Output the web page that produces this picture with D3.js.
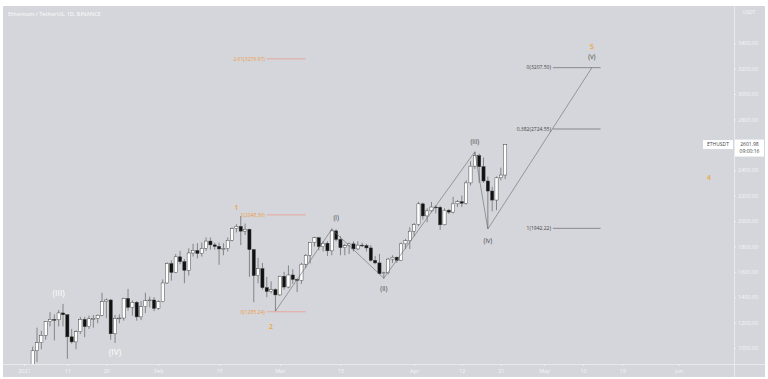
<!DOCTYPE html>
<html>
<head>
<meta charset="utf-8">
<script src="https://cdn.jsdelivr.net/npm/d3@7"></script>
<style>
  body { margin: 0; background: #fff; }
  svg { display: block; font-family: "Open Sans", "DejaVu Sans", sans-serif; }
</style>
</head>
<body>
<div id="chart-area"></div>
<script>
// daily ETH/USDT candles, starting 2021-01-01
const startDay = Date.UTC(2021, 0, 1);
const opens  = [737,730,775,978,1042,1100,1208,1225,1222,1276,1262,1088,1048,1128,1225,1168,1230,1232,1258,1365,1378,1112,1232,1236,1390,1320,1360,1245,1325,1372,1378,1312,1365,1512,1665,1595,1718,1680,1612,1748,1768,1745,1785,1842,1812,1800,1780,1782,1848,1940,1958,1920,1935,1775,1570,1625,1475,1445,1460,1418,1565,1480,1575,1540,1532,1660,1730,1832,1868,1798,1825,1765,1922,1855,1790,1805,1820,1780,1810,1806,1788,1690,1670,1585,1592,1700,1715,1690,1820,1845,1920,1972,2135,2040,2080,2110,2108,1970,2085,2070,2135,2152,2140,2300,2432,2515,2428,2315,2236,2165,2340,2362];
const highs  = [749,787,1011,1160,1135,1210,1282,1265,1300,1347,1262,1150,1140,1245,1245,1255,1260,1265,1435,1390,1385,1260,1265,1395,1465,1375,1370,1370,1435,1405,1400,1375,1540,1675,1690,1740,1765,1700,1785,1820,1825,1830,1870,1870,1830,1830,1825,1870,1950,1975,2040,1980,1940,1780,1710,1670,1560,1525,1470,1570,1600,1650,1620,1545,1670,1740,1835,1875,1875,1840,1840,1942,1935,1880,1820,1830,1840,1840,1830,1820,1810,1725,1740,1600,1710,1730,1720,1830,1860,1950,1985,2150,2145,2100,2150,2125,2120,2100,2095,2190,2165,2200,2320,2470,2545,2530,2500,2350,2270,2350,2420,2605];
const lows   = [715,715,768,890,990,1065,1170,1060,1170,1170,915,1035,990,1110,1085,1150,1160,1195,1250,1235,1065,1040,1195,1215,1295,1255,1215,1220,1275,1320,1290,1300,1360,1505,1530,1590,1660,1510,1570,1720,1705,1720,1765,1775,1775,1655,1730,1760,1840,1910,1810,1890,1560,1360,1510,1460,1400,1430,1290,1410,1460,1470,1505,1440,1505,1630,1665,1800,1770,1760,1725,1730,1840,1730,1730,1740,1760,1770,1795,1760,1680,1660,1580,1545,1580,1670,1670,1685,1780,1780,1880,1960,2010,1990,2070,2060,1930,1965,2055,2060,2110,2110,2130,2280,2410,2300,2300,1940,2075,2085,2320,2330];
const closes = [730,775,978,1042,1100,1208,1225,1222,1276,1262,1088,1048,1128,1225,1168,1230,1232,1258,1365,1378,1112,1232,1236,1390,1320,1360,1245,1325,1372,1378,1312,1365,1512,1665,1595,1718,1680,1612,1748,1768,1745,1785,1842,1812,1800,1780,1782,1848,1940,1958,1920,1935,1775,1570,1625,1475,1445,1460,1418,1565,1480,1575,1540,1532,1660,1730,1832,1868,1798,1825,1765,1922,1855,1790,1805,1820,1780,1810,1806,1788,1690,1670,1585,1592,1700,1715,1690,1820,1845,1920,1972,2135,2040,2080,2110,2108,1970,2085,2070,2135,2152,2140,2300,2432,2515,2428,2315,2236,2165,2340,2362,2601.98];
const lastPrice = 2601.98;

// x axis ticks
const tickDays   = ["2021-01-01","2021-01-11","2021-01-20","2021-02-01","2021-02-15","2021-03-01","2021-03-15","2021-04-01","2021-04-12","2021-04-21","2021-05-01","2021-05-10","2021-05-19","2021-06-01"];
const tickLabels = ["2021","11","20","Feb","15","Mar","15","Apr","12","21","May","10","19","Jun"];
// 2600 is hidden behind the last price tag
const priceTicks = [1000,1200,1400,1600,1800,2000,2200,2400,2800,3000,3200,3400];

// elliott wave path
const wavePts = [["2021-02-28",1290],["2021-03-13",1935],["2021-03-25",1550],["2021-04-15",2545],["2021-04-18",1937],["2021-05-12",3207.5]];
const waveNames = ["(i)","(ii)","(iii)","(iv)","(v)"];
const waveNameAt = [["2021-03-14",2024],["2021-03-25",1465],["2021-04-15",2622],["2021-04-18",1843],["2021-05-12",3290]];

// big degree labels
const bigNames = ["(III)","(IV)"];
const bigNameAt = [["2021-01-09",1433],["2021-01-22",969]];

// orange count
const countNames = ["1","2","5","4"];
const countAt = [["2021-02-19",2102],["2021-02-27",1165],["2021-05-12",3372],["2021-06-08",2346]];

// fib retracement (orange) and extension (grey)
const fibA = [["2.61",3276.97],["1",2048.36],["0",1285.24]];
const fibASpan = ["2021-02-26","2021-03-07"];
const fibB = [["0",3207.50],["0.382",2724.55],["1",1942.22]];
const fibBSpan = ["2021-05-03","2021-05-14"];

const W = 768, H = 379;
const BG = "#d4d6db", LIGHT = "#eceef1";
const plotLeft = 3, plotTop = 6, plotRight = 734, plotBottom = 364;

const day = s => new Date(s + "T00:00:00Z");
const dates = opens.map((d, i) => new Date(startDay + i * 864e5));

const x = d3.scaleUtc()
  .domain([day("2020-12-27"), day("2021-06-14")])
  .range([24 - 5 * 4.335, 24 + 164 * 4.335]);
const y = d3.scaleLinear().domain([874, 3693]).range([plotBottom, plotTop]);

const svg = d3.select("#chart-area").append("svg")
  .attr("width", W)
  .attr("height", H);

svg.append("rect").attr("x", 3).attr("y", 6).attr("width", 762).attr("height", 371).attr("fill", BG);

svg.append("clipPath").attr("id", "plot-clip")
  .append("rect").attr("x", plotLeft).attr("y", plotTop)
  .attr("width", plotRight - plotLeft).attr("height", plotBottom - plotTop);

const plot = svg.append("g").attr("clip-path", "url(#plot-clip)");

// candles
const candles = plot.selectAll("g.candle")
  .data(opens.map((o, i) => ({date: dates[i], o: o, h: highs[i], l: lows[i], c: closes[i]})))
  .join("g").attr("class", "candle");

candles.append("line")
  .attr("x1", d => x(d.date)).attr("x2", d => x(d.date))
  .attr("y1", d => y(d.h)).attr("y2", d => y(d.l))
  .attr("stroke", "#404040").attr("stroke-width", 0.55);

candles.append("rect")
  .attr("x", d => x(d.date) - 1.6)
  .attr("width", 3.2)
  .attr("y", d => y(Math.max(d.o, d.c)))
  .attr("height", d => Math.max(0.8, Math.abs(y(d.o) - y(d.c))))
  .attr("fill", d => d.c >= d.o ? "#ffffff" : "#111111")
  .attr("stroke", "#3a3a3a").attr("stroke-width", 0.45);

// wave path
plot.append("path")
  .attr("d", d3.line().x(d => x(day(d[0]))).y(d => y(d[1]))(wavePts))
  .attr("fill", "none").attr("stroke", "#6a6a6a").attr("stroke-width", 0.6);

// fib levels
function drawFib(levels, span, lineColor, textColor) {
  const g = plot.append("g");
  levels.forEach(([k, v]) => {
    g.append("line")
      .attr("x1", x(day(span[0]))).attr("x2", x(day(span[1])))
      .attr("y1", y(v)).attr("y2", y(v))
      .attr("stroke", lineColor).attr("stroke-width", 0.6);
    g.append("text")
      .attr("x", x(day(span[0])) - 2).attr("y", y(v))
      .attr("dy", "0.35em").attr("text-anchor", "end")
      .attr("font-size", "5px").attr("fill", textColor)
      .text(`${k}(${v.toFixed(2)})`);
  });
}
drawFib(fibA, fibASpan, "#f08a6c", "#ee9a45");
drawFib(fibB, fibBSpan, "#555", "#444");

// labels
function addLabel(names, at, color, size, weight) {
  names.forEach((t, i) => {
    plot.append("text")
      .attr("x", x(day(at[i][0]))).attr("y", y(at[i][1]))
      .attr("dy", "0.35em").attr("text-anchor", "middle")
      .attr("font-size", `${size}px`).attr("font-weight", weight)
      .attr("fill", color).text(t);
  });
}
addLabel(bigNames, bigNameAt, "#f7f7f8", 8, 600);
addLabel(waveNames, waveNameAt, "#444", 6.5, 400);
addLabel(countNames, countAt, "#f2a23a", 7, 600);

// axes
const xAxis = svg.append("g")
  .attr("transform", `translate(0,${plotBottom})`)
  .call(d3.axisBottom(x).tickValues(tickDays.map(day)).tickFormat((d, i) => tickLabels[i]).tickSize(2).tickPadding(3));
xAxis.select(".domain").remove();
svg.append("line").attr("x1", 3).attr("x2", 765).attr("y1", plotBottom + 0.5).attr("y2", plotBottom + 0.5)
  .attr("stroke", LIGHT).attr("stroke-width", 0.8);

const yAxis = svg.append("g")
  .attr("transform", `translate(${plotRight},0)`)
  .call(d3.axisRight(y).tickValues(priceTicks).tickFormat(d3.format(".2f")).tickSize(2).tickPadding(2));
yAxis.select(".domain").remove();
svg.append("line").attr("x1", plotRight + 0.5).attr("x2", plotRight + 0.5).attr("y1", 6).attr("y2", 377)
  .attr("stroke", LIGHT).attr("stroke-width", 0.8);

svg.selectAll(".tick line").attr("stroke", LIGHT);
svg.selectAll(".tick text").attr("fill", "#f4f5f7").attr("font-size", "5.5px").attr("font-family", "Open Sans, sans-serif");

svg.append("text").attr("x", 749).attr("y", 14).attr("text-anchor", "middle")
  .attr("font-size", "5px").attr("fill", "#f4f5f7").text("USDT");

// title
svg.append("text").attr("x", 8).attr("y", 16)
  .attr("font-size", "5.5px").attr("font-weight", 600).attr("fill", "#f4f5f7")
  .text("Ethereum / TetherUS, 1D, BINANCE");

// last price tags
const py = y(lastPrice);
svg.append("rect").attr("x", 703).attr("y", py - 4.5).attr("width", 30).attr("height", 9).attr("fill", "#fff");
svg.append("text").attr("x", 718).attr("y", py).attr("dy", "0.35em").attr("text-anchor", "middle")
  .attr("font-size", "5px").attr("fill", "#444").text("ETHUSDT");
svg.append("rect").attr("x", 735).attr("y", py - 5).attr("width", 29).attr("height", 17).attr("fill", "#fff");
svg.append("text").attr("x", 749.5).attr("y", py).attr("dy", "0.35em").attr("text-anchor", "middle")
  .attr("font-size", "5px").attr("fill", "#444").text(d3.format(".2f")(lastPrice));
svg.append("text").attr("x", 749.5).attr("y", py + 7).attr("dy", "0.35em").attr("text-anchor", "middle")
  .attr("font-size", "5px").attr("fill", "#444").text("09:00:16");
</script>
</body>
</html>
